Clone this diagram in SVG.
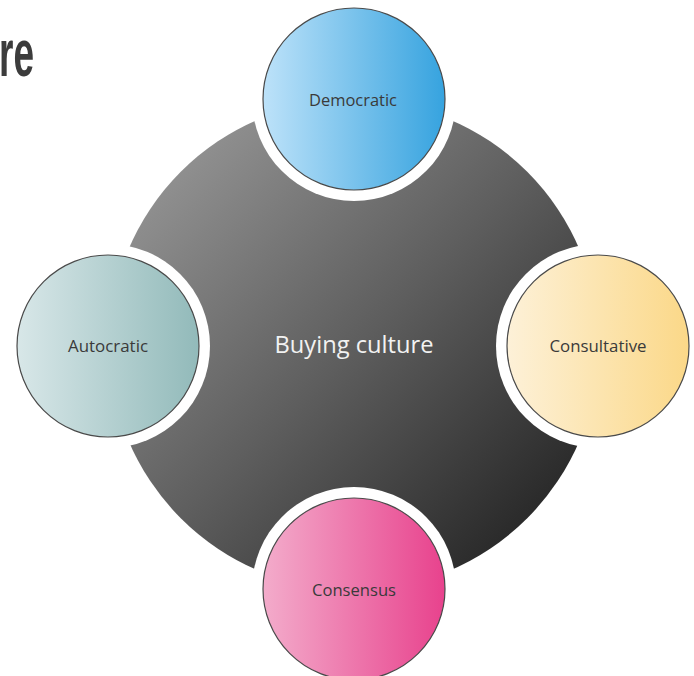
<svg xmlns="http://www.w3.org/2000/svg" width="694" height="676" viewBox="0 0 694 676">
<defs>
<linearGradient id="gHub" x1="0" y1="0" x2="1" y2="1">
<stop offset="0" stop-color="#a3a3a3"/>
<stop offset="0.5" stop-color="#5e5e5e"/>
<stop offset="1" stop-color="#151515"/>
</linearGradient>
<linearGradient id="gBlue" x1="0" y1="0" x2="1" y2="0">
<stop offset="0" stop-color="#bde2f9"/>
<stop offset="1" stop-color="#36a3df"/>
</linearGradient>
<linearGradient id="gTeal" x1="0" y1="0" x2="1" y2="0">
<stop offset="0" stop-color="#d8e7e8"/>
<stop offset="1" stop-color="#92baba"/>
</linearGradient>
<linearGradient id="gYellow" x1="0" y1="0" x2="1" y2="0">
<stop offset="0" stop-color="#fdf1d8"/>
<stop offset="1" stop-color="#fbd888"/>
</linearGradient>
<linearGradient id="gPink" x1="0" y1="0" x2="1" y2="0">
<stop offset="0" stop-color="#f3accb"/>
<stop offset="1" stop-color="#e8428d"/>
</linearGradient>
</defs>
<style>
.ring{fill:#ffffff}
.node{stroke:#4a4a4a;stroke-width:1.2}
.lbl{font-family:"Open Sans","Liberation Sans",sans-serif;font-size:16px;fill:#3a3a3a;text-anchor:middle}
.hubtxt{font-family:"Open Sans","Liberation Sans",sans-serif;font-size:24px;fill:#f2f2f2;text-anchor:middle}
.title{font-family:"Liberation Sans",sans-serif;font-size:66px;font-weight:bold;fill:#3c3c3c}
</style>
<rect width="694" height="676" fill="#ffffff"/>
<g id="title"><text class="title" x="-1" y="76" textLength="35" lengthAdjust="spacingAndGlyphs">re</text></g>
<g id="hub">
<circle cx="354" cy="345" r="245" fill="url(#gHub)"/>
<text class="hubtxt" x="354" y="353" textLength="159" lengthAdjust="spacingAndGlyphs">Buying culture</text>
</g>
<g id="connectors"></g>
<g id="democratic">
<circle class="ring" cx="354" cy="99" r="102"/>
<circle class="node" cx="354" cy="99" r="91" fill="url(#gBlue)"/>
<text class="lbl" x="353" y="106" textLength="88" lengthAdjust="spacingAndGlyphs">Democratic</text>
</g>
<g id="autocratic">
<circle class="ring" cx="108" cy="346" r="102"/>
<circle class="node" cx="108" cy="346" r="91" fill="url(#gTeal)"/>
<text class="lbl" x="108" y="352" textLength="80" lengthAdjust="spacingAndGlyphs">Autocratic</text>
</g>
<g id="consultative">
<circle class="ring" cx="598" cy="346" r="102"/>
<circle class="node" cx="598" cy="346" r="91" fill="url(#gYellow)"/>
<text class="lbl" x="598" y="352" textLength="97" lengthAdjust="spacingAndGlyphs">Consultative</text>
</g>
<g id="consensus">
<circle class="ring" cx="354" cy="589" r="102"/>
<circle class="node" cx="354" cy="589" r="91" fill="url(#gPink)"/>
<text class="lbl" x="354" y="596" textLength="84" lengthAdjust="spacingAndGlyphs">Consensus</text>
</g>
</svg>
